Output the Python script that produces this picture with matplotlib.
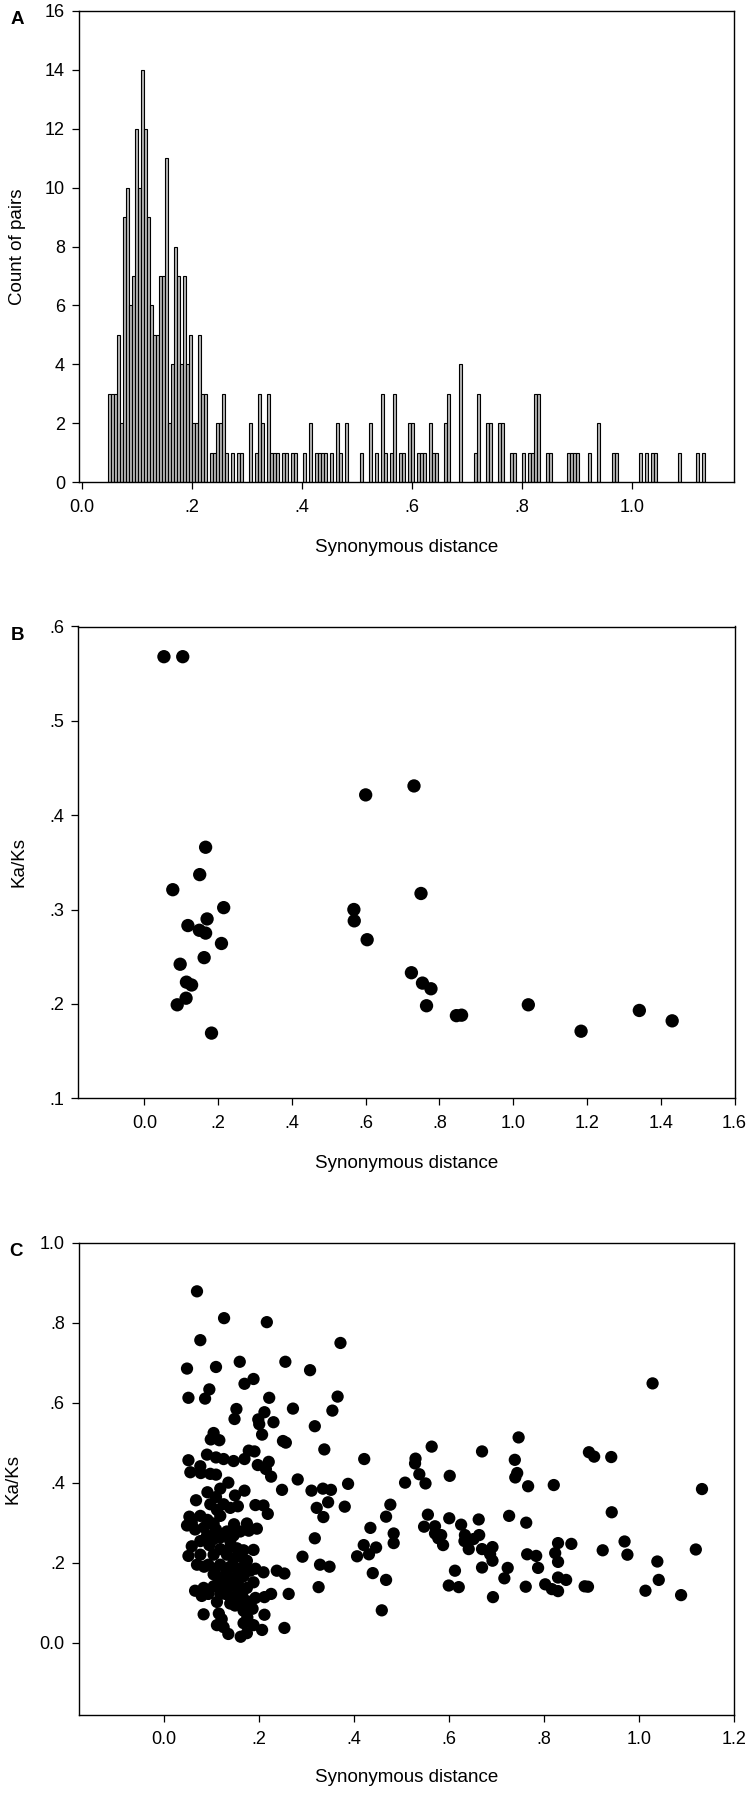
import numpy as np
import matplotlib
matplotlib.use("Agg")
import matplotlib.pyplot as plt

plt.rcParams['font.family'] = ['Liberation Sans', 'DejaVu Sans']

# ---------------- Panel A: histogram of synonymous distance ----------------
hist_bin_start = 0.0473
hist_bin_width = 0.005455
hist_counts = [3, 3, 3, 5, 2, 9, 10, 6, 7, 12, 10, 14, 12, 9, 6, 5, 5, 7, 7, 11, 2,
               4, 8, 7, 4, 7, 4, 5, 2, 2, 5, 3, 3,
               0,
               1, 1, 2, 2, 3, 1,
               0, 1, 0, 1, 1, 0, 0, 2, 0, 1, 3, 2, 0, 3, 1, 1, 1, 0, 1, 1, 0, 1, 1,
               0, 0, 1, 0, 2, 0, 1, 1, 1, 1, 0, 1, 0, 2, 1, 0, 2,
               0, 0, 0, 0, 1, 0, 0, 2, 0, 1, 0, 3, 1, 0, 1, 3, 0, 1, 1, 0, 2, 2,
               0, 1, 1, 1, 0, 2, 1, 1, 0, 0, 2, 3, 0, 0, 0, 4, 0, 0, 0, 0, 1, 3,
               0, 0, 2, 2, 0, 0, 2, 2, 0, 0, 1, 1, 0, 0, 1, 0, 1, 1, 3, 3, 0, 0, 1, 1,
               0, 0, 0, 0, 0, 1, 1, 1, 1, 0, 0, 0, 1, 0, 0, 2, 0, 0, 0, 0, 1, 1,
               0, 0, 0, 0, 0, 0, 0, 1, 0, 1, 0, 1, 1, 0, 0, 0, 0, 0, 0, 0, 1,
               0, 0, 0, 0, 0, 1, 0, 1]
a_xticks = [0.0, 0.2, 0.4, 0.6, 0.8, 1.0]
a_xticklabels = ['0.0', '.2', '.4', '.6', '.8', '1.0']
a_yticks = [0, 2, 4, 6, 8, 10, 12, 14, 16]
a_yticklabels = ['0', '2', '4', '6', '8', '10', '12', '14', '16']

# ---------------- Panel B: Ka/Ks vs synonymous distance ----------------
b_ks = [0.053, 0.104, 0.077, 0.166, 0.150, 0.215, 0.170, 0.118, 0.149, 0.166,
        0.209, 0.162, 0.097, 0.114, 0.128, 0.113, 0.089, 0.182,
        0.600, 0.731, 0.750, 0.568, 0.569, 0.604, 0.724, 0.754, 0.777, 0.765,
        0.846, 0.860, 1.041, 1.184, 1.342, 1.431]
b_kaks = [0.568, 0.568, 0.321, 0.366, 0.337, 0.302, 0.290, 0.283, 0.278, 0.275,
          0.264, 0.249, 0.242, 0.223, 0.220, 0.206, 0.199, 0.169,
          0.4215, 0.431, 0.317, 0.300, 0.288, 0.268, 0.233, 0.222, 0.216, 0.198,
          0.1875, 0.188, 0.199, 0.171, 0.193, 0.182]
b_xticks = [0.0, 0.2, 0.4, 0.6, 0.8, 1.0, 1.2, 1.4, 1.6]
b_xticklabels = ['0.0', '.2', '.4', '.6', '.8', '1.0', '1.2', '1.4', '1.6']
b_yticks = [0.1, 0.2, 0.3, 0.4, 0.5, 0.6]
b_yticklabels = ['.1', '.2', '.3', '.4', '.5', '.6']

# ---------------- Panel C: Ka/Ks vs synonymous distance ----------------
c_ks = [1.028, 0.746, 0.563, 0.669, 0.894, 0.905, 0.941, 0.421, 0.529, 0.738,
        0.528, 0.537, 0.601, 0.743, 0.739, 0.507, 0.550, 0.766, 0.820, 1.132,
        0.387, 0.476, 0.467, 0.555, 0.600, 0.662, 0.726, 0.942, 0.762, 0.434,
        0.547, 0.570, 0.625, 0.483, 0.483, 0.570, 0.583, 0.577, 0.633, 0.663,
        0.587, 0.632, 0.641, 0.651, 0.669, 0.691, 0.686, 0.691, 0.669, 0.829,
        0.857, 0.823, 0.764, 0.783, 0.829, 0.787, 0.723, 0.716, 0.923, 0.969,
        0.975, 1.119, 1.038, 1.041, 1.013, 1.088, 0.612, 0.599, 0.620, 0.692,
        0.761, 0.802, 0.816, 0.829, 0.829, 0.846, 0.885, 0.892, 0.439, 0.467,
        0.458, 0.406, 0.420, 0.431, 0.446, 0.380,
        0.069, 0.126, 0.216, 0.076, 0.371, 0.048, 0.109, 0.159, 0.255, 0.307,
        0.051, 0.086, 0.095, 0.169, 0.188, 0.221, 0.365, 0.152, 0.148, 0.211,
        0.198, 0.200, 0.230, 0.271, 0.354, 0.317, 0.104, 0.098, 0.116, 0.206,
        0.250, 0.256, 0.337, 0.051, 0.090, 0.109, 0.125, 0.146, 0.169, 0.178,
        0.190, 0.197, 0.220, 0.214, 0.225, 0.055, 0.076, 0.077, 0.097, 0.109,
        0.135, 0.118, 0.091, 0.169, 0.248, 0.281, 0.310, 0.334, 0.351, 0.067,
        0.109, 0.149, 0.139, 0.155, 0.192, 0.209, 0.218, 0.321, 0.345, 0.335,
        0.053, 0.058, 0.048, 0.076, 0.065, 0.091, 0.104, 0.118, 0.084, 0.109,
        0.147, 0.174, 0.178, 0.195, 0.118, 0.076, 0.095, 0.058, 0.051, 0.076,
        0.069, 0.084, 0.104, 0.118, 0.139, 0.153, 0.167, 0.188, 0.132, 0.146,
        0.160, 0.174, 0.118, 0.139, 0.153, 0.192, 0.209, 0.237, 0.253, 0.104,
        0.125, 0.146, 0.167, 0.188, 0.065, 0.083, 0.079, 0.104, 0.118, 0.139,
        0.156, 0.129, 0.146, 0.164, 0.111, 0.139, 0.174, 0.192, 0.211, 0.225,
        0.262, 0.083, 0.115, 0.167, 0.186, 0.211, 0.111, 0.125, 0.135, 0.161,
        0.174, 0.188, 0.206, 0.167, 0.253, 0.291, 0.317, 0.328, 0.348, 0.325,
        0.097, 0.111, 0.125, 0.090, 0.104, 0.132, 0.146, 0.160, 0.139, 0.093,
        0.107, 0.132, 0.167, 0.181, 0.115, 0.135, 0.156, 0.174, 0.093, 0.118,
        0.149, 0.164, 0.121, 0.175]
c_kaks = [0.648, 0.513, 0.490, 0.478, 0.476, 0.465, 0.464, 0.459, 0.460, 0.457,
          0.448, 0.421, 0.417, 0.424, 0.413, 0.400, 0.398, 0.391, 0.394, 0.384,
          0.397, 0.345, 0.315, 0.320, 0.311, 0.308, 0.317, 0.326, 0.300, 0.287,
          0.290, 0.291, 0.295, 0.273, 0.249, 0.273, 0.269, 0.261, 0.269, 0.269,
          0.244, 0.254, 0.234, 0.259, 0.234, 0.239, 0.221, 0.205, 0.188, 0.249,
          0.247, 0.224, 0.221, 0.217, 0.202, 0.187, 0.187, 0.161, 0.231, 0.253,
          0.220, 0.233, 0.203, 0.157, 0.130, 0.119, 0.180, 0.143, 0.139, 0.114,
          0.140, 0.146, 0.134, 0.129, 0.163, 0.157, 0.141, 0.140, 0.174, 0.157,
          0.081, 0.216, 0.244, 0.221, 0.238, 0.340,
          0.878, 0.811, 0.801, 0.756, 0.749, 0.685, 0.689, 0.702, 0.702, 0.681,
          0.612, 0.610, 0.633, 0.647, 0.659, 0.612, 0.615, 0.584, 0.559, 0.576,
          0.558, 0.546, 0.551, 0.585, 0.580, 0.541, 0.524, 0.508, 0.506, 0.520,
          0.504, 0.500, 0.483, 0.456, 0.470, 0.463, 0.459, 0.454, 0.459, 0.480,
          0.478, 0.444, 0.452, 0.434, 0.415, 0.426, 0.441, 0.424, 0.422, 0.420,
          0.400, 0.385, 0.376, 0.380, 0.382, 0.408, 0.380, 0.385, 0.382, 0.356,
          0.364, 0.368, 0.337, 0.341, 0.344, 0.343, 0.322, 0.337, 0.351, 0.314,
          0.315, 0.300, 0.293, 0.317, 0.283, 0.307, 0.298, 0.317, 0.288, 0.283,
          0.296, 0.298, 0.280, 0.285, 0.263, 0.254, 0.244, 0.241, 0.217, 0.220,
          0.195, 0.190, 0.220, 0.234, 0.239, 0.236, 0.231, 0.232, 0.220, 0.210,
          0.215, 0.205, 0.195, 0.190, 0.185, 0.185, 0.176, 0.180, 0.173, 0.171,
          0.166, 0.161, 0.166, 0.151, 0.130, 0.137, 0.117, 0.141, 0.137, 0.141,
          0.137, 0.122, 0.114, 0.122, 0.102, 0.098, 0.104, 0.112, 0.114, 0.122,
          0.122, 0.071, 0.073, 0.080, 0.085, 0.070, 0.044, 0.039, 0.022, 0.015,
          0.024, 0.044, 0.032, 0.049, 0.037, 0.215, 0.261, 0.195, 0.190, 0.139,
          0.346, 0.332, 0.346, 0.268, 0.259, 0.278, 0.268, 0.278, 0.254, 0.195,
          0.185, 0.180, 0.190, 0.180, 0.156, 0.151, 0.156, 0.137, 0.122, 0.122,
          0.093, 0.098, 0.059, 0.063]
c_xticks = [0.0, 0.2, 0.4, 0.6, 0.8, 1.0, 1.2]
c_xticklabels = ['0.0', '.2', '.4', '.6', '.8', '1.0', '1.2']
c_yticks = [0.0, 0.2, 0.4, 0.6, 0.8, 1.0]
c_yticklabels = ['0.0', '.2', '.4', '.6', '.8', '1.0']

x_title = 'Synonymous distance'

# ---------------- layout ----------------
W, H = 750, 1793
fig = plt.figure(figsize=(W / 100, H / 100), dpi=100)


def make_axes(left, top, right, bottom):
    ax = fig.add_axes([left / W, 1 - bottom / H, (right - left) / W, (bottom - top) / H])
    for s in ax.spines.values():
        s.set_linewidth(1.0)
        s.set_color('black')
    ax.tick_params(direction='out', length=5, width=0.9, top=False, right=False,
                   labelsize=13, colors='black')
    ax.tick_params(axis='x', pad=7)
    ax.tick_params(axis='y', pad=5)
    return ax


def place_labels(ax, box, xlab_y, ylab_x, ylab_text):
    left, top, right, bottom = box
    ax.set_xlabel(x_title, fontsize=13.5, va='center')
    ax.xaxis.set_label_coords(0.5, (bottom - xlab_y) / (bottom - top))
    ax.set_ylabel(ylab_text, fontsize=13.5, va='center')
    ax.yaxis.set_label_coords((ylab_x - left) / (right - left), 0.5)


# Panel A
boxA = (79, 10.7, 734, 482.3)
axA = make_axes(*boxA)
edges = hist_bin_start + hist_bin_width * np.arange(len(hist_counts))
counts = np.array(hist_counts)
mask = counts > 0
axA.bar(edges[mask], counts[mask], width=hist_bin_width, align='edge',
        color='#b5b5b5', edgecolor='black', linewidth=0.8)
axA.set_xlim(-0.006, 1.185)
axA.set_ylim(0, 16)
axA.set_xticks(a_xticks)
axA.set_xticklabels(a_xticklabels)
axA.set_yticks(a_yticks)
axA.set_yticklabels(a_yticklabels)
place_labels(axA, boxA, 547, 17, 'Count of pairs')

# Panel B
boxB = (78, 626.5, 734.5, 1098.2)
axB = make_axes(*boxB)
axB.scatter(b_ks, b_kaks, s=92, color='black', edgecolors='none', zorder=3)
axB.set_xlim(-0.18, 1.6)
axB.set_ylim(0.1, 0.6)
axB.set_xticks(b_xticks)
axB.set_xticklabels(b_xticklabels)
axB.set_yticks(b_yticks)
axB.set_yticklabels(b_yticklabels)
place_labels(axB, boxB, 1163, 19, 'Ka/Ks')

# Panel C
boxC = (78.7, 1242.5, 734.3, 1714.8)
axC = make_axes(*boxC)
axC.scatter(c_ks, c_kaks, s=78, color='black', edgecolors='none', zorder=3)
axC.set_xlim(-0.18, 1.2)
axC.set_ylim(-0.18, 1.0)
axC.set_xticks(c_xticks)
axC.set_xticklabels(c_xticklabels)
axC.set_yticks(c_yticks)
axC.set_yticklabels(c_yticklabels)
place_labels(axC, boxC, 1778, 13, 'Ka/Ks')

# panel letters
for letter, (px, py) in zip(['A', 'B', 'C'], [(17, 20), (17, 635), (16, 1251)]):
    fig.text(px / W, 1 - py / H, letter, fontsize=13.5, fontweight='bold',
             ha='center', va='center')

fig.savefig('out.png', dpi=100)
